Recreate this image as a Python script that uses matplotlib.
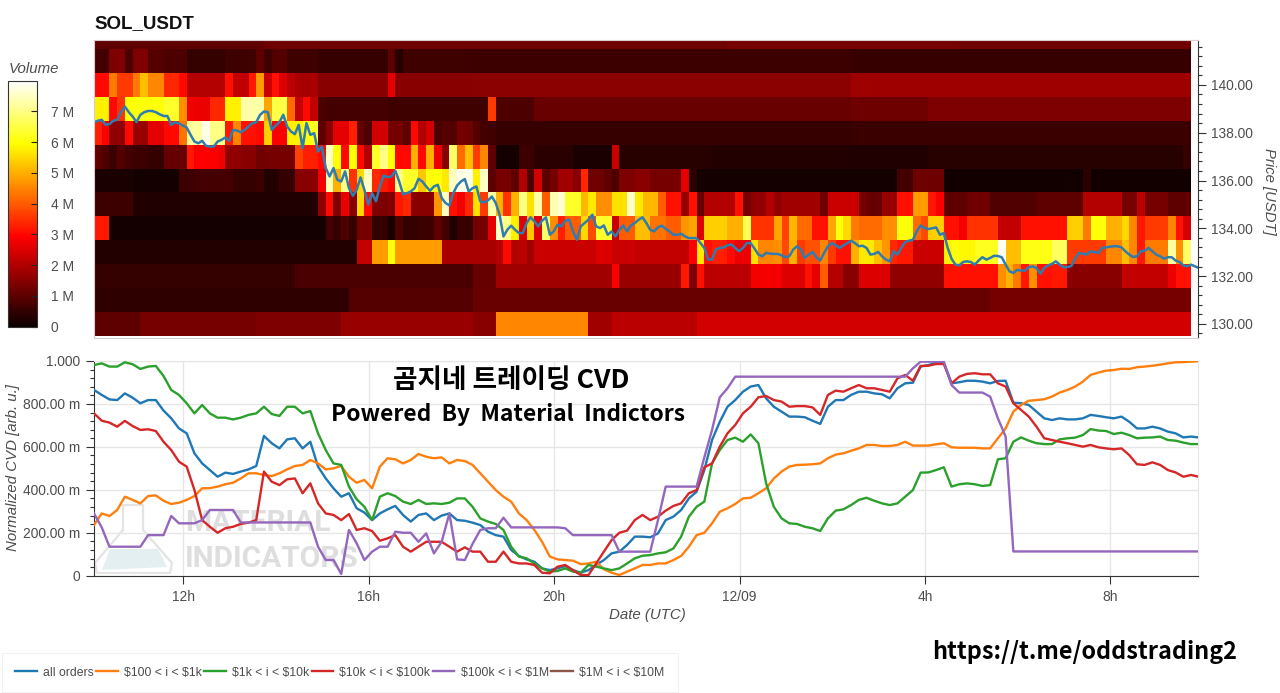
import matplotlib
matplotlib.use("Agg")
import matplotlib.pyplot as plt
import numpy as np

from matplotlib.patches import Polygon
from matplotlib.ticker import MultipleLocator

# heatmap rows, million units, one value per 10 minute bin
vol_142 = [1.0]*22 + [1.2]*60 + [1.3]*30 + [1.2]*30
vol_141 = [0.7]*2 + [1.4]*2 + [0.8] + [1.4]*2 + [0.9]*2 + [0.8]*3 + [0.5]*5 + [0.65]*4 + [1.0] + [0.65] + [0.9]*2 + [0.65]*4 + [0.55]*9 + [1.0] + [0.35] + [0.65]*9 + [0.6]*49 + [0.55]*44
vol_140 = [3.0]*2 + [4.4] + [3.6]*2 + [4.4] + [5.2] + [4.5]*2 + [3.4]*2 + [3.0] + [2.0]*5 + [3.1] + [2.2]*2 + [3.2] + [4.8] + [2.3] + [3.1] + [2.5] + [2.1] + [1.9]*3 + [1.5]*9 + [2.6] + [1.5]*10 + [1.55]*49 + [1.75]*44
vol_139 = [5.8]*2 + [3.0] + [3.5] + [6.0]*5 + [6.3]*2 + [4.6] + [2.8] + [2.7]*2 + [3.4]*2 + [5.8]*2 + [7.3]*3 + [4.9] + [6.5]*2 + [4.2] + [2.2] + [3.0] + [2.2] + [0.8] + [0.7]*8 + [0.65]*13 + [3.6] + [0.8]*5 + [1.15]*41 + [1.2]*10 + [1.4]*34
vol_138 = [3.3, 2.9, 1.6, 1.6, 3.0, 1.7, 1.7, 2.6, 2.6, 3.0, 3.0, 4.3, 7.2, 7.2, 7.8, 7.0, 7.0, 3.2, 4.5, 3.1, 3.1, 3.0, 5.4, 2.9, 2.9, 5.8, 5.8, 6.0, 6.2, 1.0, 1.5, 2.6, 2.6, 3.3, 1.1, 0.8, 2.4, 2.4, 1.3, 1.3, 1.0, 3.0, 2.0, 2.4, 0.8, 0.9, 0.9, 1.3, 1.2, 0.9, 0.7, 0.65] + [0.55]*46 + [0.58]*44
vol_137 = [1.0, 0.8, 0.6, 0.9, 0.7, 0.6, 0.6, 0.5, 0.5, 1.1, 1.1, 1.1, 3.2, 2.9, 2.9, 2.9, 2.7, 1.6, 1.6, 1.5, 1.5, 1.2, 1.3, 1.3, 1.3, 1.3, 3.7, 3.3, 3.3, 3.0, 7.5, 6.0, 3.0, 6.0, 3.0, 2.0, 6.3, 7.0, 6.0, 3.0, 3.0, 5.0, 3.0, 5.0, 2.7, 1.5, 6.8, 4.2, 5.2, 3.6, 4.5, 1.0] + [0.15]*3 + [0.6]*2 + [0.4]*5 + [0.2]*5 + [2.3] + [0.35]*12 + [0.3]*17 + [0.25]*11 + [0.35]*33 + [0.5]
vol_136 = [0.2]*5 + [0.15]*6 + [0.6]*2 + [0.7]*5 + [0.5]*3 + [0.6] + [0.3]*2 + [0.5]*2 + [1.5]*3 + [2.8, 7.4, 5.0, 7.0, 3.5, 5.5, 7.5, 3.4, 3.2, 3.0, 7.0, 6.3, 6.3, 5.3, 6.0, 6.0, 5.7, 7.5, 7.8, 7.8, 5.8, 7.5, 1.0, 1.3, 1.3, 1.0, 2.0, 0.8, 2.4, 1.0, 1.3, 1.8, 1.8, 1.5, 3.4, 1.2, 1.2, 1.0, 0.8, 1.4, 1.4, 1.5, 1.5] + [1.3]*4 + [2.6, 0.4] + [0.15]*26 + [0.7]*2 + [1.2]*4 + [0.1]*18 + [0.4] + [0.12]*13
vol_135 = [0.6]*5 + [0.25]*24 + [1.6, 3.0, 1.4, 2.7, 1.5, 5.5, 3.0, 1.4, 1.4, 1.4, 3.2, 3.4, 1.5, 1.5, 1.5, 4.7, 7.5, 3.1, 2.8, 3.4, 5.6, 3.6, 7.3, 5.0, 3.5, 5.0, 7.0, 5.6, 7.3, 4.0, 7.4, 7.6, 6.3, 6.3, 5.1, 5.7, 4.6, 4.6, 5.6, 5.6, 7.5, 5.7, 5.1, 5.1, 4.0, 3.1, 3.1, 1.7, 3.1, 1.1, 2.0, 2.0, 2.0, 2.0, 3.1, 1.3, 1.6, 1.6, 2.0, 1.6, 1.8, 1.8, 1.8, 1.8, 1.8, 1.2, 2.3, 2.3, 2.3, 2.3, 1.3, 1.1, 1.1, 1.7, 1.7, 3.1, 3.1, 4.8, 4.8, 3.2, 2.9, 1.0, 1.0, 1.0, 1.2, 1.2, 1.2] + [0.85]*6 + [1.0]*6 + [2.0]*5 + [1.3]*2 + [2.1] + [1.3]*3 + [1.0]*3
vol_134 = [3.2]*2 + [0.15]*28 + [0.7, 0.5, 0.8, 0.5, 1.3, 1.3, 0.5, 0.5, 0.2, 0.8, 0.5, 0.5, 0.6, 0.6, 1.0, 0.7, 0.3, 0.5, 0.5, 1.3, 1.3, 2.6, 7.5, 7.0, 5.8, 2.5, 5.3, 2.5, 6.8, 4.6, 3.3, 4.0, 4.0, 5.5, 3.8, 6.3, 6.3, 2.3, 4.0, 4.0, 5.2, 5.2, 4.3, 4.3, 4.0, 4.0, 4.7, 4.9, 2.5, 5.4, 5.4, 5.4, 5.0, 5.0, 6.6, 3.5, 3.5, 3.5, 4.9, 3.7, 5.1, 4.2, 4.2, 3.1, 3.1, 4.9, 6.0, 5.5, 4.4, 4.2, 4.2, 4.2, 4.6, 4.6, 6.0, 6.0, 4.2, 3.8, 5.4, 5.4, 3.1, 3.1, 2.8, 3.5, 3.5, 3.5, 3.5, 2.2, 2.2, 2.2] + [3.1]*6 + [5.4, 5.4, 4.4, 6.0, 6.0, 5.0, 5.0, 5.5, 4.5, 3.2, 3.6, 3.6, 3.6, 4.5, 3.1, 2.4]
vol_133 = [0.3]*34 + [2.2]*2 + [4.8]*2 + [6.0] + [4.8]*6 + [1.9]*7 + [2.0, 3.0, 2.0, 2.1, 1.8] + [2.3]*8 + [2.5]*2 + [2.3]*3 + [2.2]*7 + [2.9, 5.7, 3.1, 3.3, 3.3, 3.0, 2.7, 2.7, 5.6, 4.5, 4.5, 4.6, 3.8, 5.0, 3.6, 3.9, 3.9, 4.5, 3.6, 3.1, 3.1, 5.0, 5.7, 5.7, 5.2, 4.7, 3.4, 3.2, 3.2] + [2.3]*4 + [5.8, 6.0, 5.9, 5.9, 6.2, 6.2, 6.2, 7.9, 5.2, 5.2] + [6.1]*4 + [6.7]*2 + [3.6]*5 + [4.5, 4.5, 5.2, 4.5, 3.2, 4.4, 4.4, 4.4, 7.2, 4.6, 6.8]
vol_132 = [0.5]*26 + [0.75]*23 + [1.1]*3 + [1.8]*15 + [2.9] + [1.7]*8 + [3.2, 1.4, 3.1] + [2.1]*6 + [2.8]*4 + [2.5]*3 + [3.1, 2.6, 4.0, 2.0, 2.0, 1.5, 1.5] + [2.5]*4 + [1.6]*7 + [3.1]*7 + [4.6, 5.0, 4.4, 3.2, 4.6, 3.1, 3.1, 3.2, 3.2] + [1.5]*7 + [2.2]*6 + [2.7, 3.1, 3.1]
vol_131 = [0.45]*33 + [0.9]*16 + [1.15]*67 + [1.3]*26
vol_130 = [1.0]*6 + [1.3]*15 + [1.4]*11 + [1.7]*17 + [1.5]*3 + [4.5]*12 + [1.8]*3 + [2.1]*11 + [2.4]*64

# bottom to top, one price level per row
price_levels = [130, 131, 132, 133, 134, 135, 136, 137, 138, 139, 140, 141, 142]

# price, one value per 5 minutes
price = [
    138.44, 138.50, 138.54, 138.33, 138.36, 138.50, 138.54, 138.86, 139.09, 138.86, 138.68, 138.44,
    138.75, 138.86, 138.91, 138.91, 138.86, 138.77, 138.70, 138.70, 138.33, 138.44, 138.39, 138.30,
    138.22, 137.91, 137.63, 137.56, 137.66, 137.45, 137.42, 137.42, 137.63, 137.70, 137.80, 137.66,
    138.12, 138.09, 138.02, 138.12, 138.26, 138.40, 138.44, 138.75, 138.89, 138.86, 138.12, 138.30,
    138.44, 138.75, 138.26, 138.05, 137.94, 138.33, 137.35, 138.40, 137.91, 137.98, 137.21, 137.42,
    136.52, 136.17, 136.52, 136.03, 135.96, 136.38, 135.68, 135.36, 135.61, 136.13, 135.61, 134.99,
    135.47, 135.13, 135.75, 136.21, 136.14, 136.17, 136.41, 135.96, 135.43, 135.47, 135.54, 135.68,
    136.07, 135.96, 135.75, 135.57, 135.75, 135.82, 135.27, 135.06, 134.96, 135.47, 135.79, 135.96,
    136.06, 135.54, 135.68, 135.75, 135.13, 135.08, 135.17, 135.33, 135.06, 134.57, 133.66, 133.94,
    134.11, 133.94, 133.80, 133.80, 134.22, 134.46, 134.29, 134.08, 134.32, 134.46, 133.73, 133.87,
    134.15, 134.08, 134.32, 134.36, 133.87, 133.52, 134.08, 134.22, 134.36, 134.57, 134.08, 134.01,
    134.12, 133.73, 133.87, 133.66, 133.94, 134.12, 133.87, 134.12, 134.22, 134.36, 134.46, 134.22,
    133.94, 133.87, 134.04, 134.11, 133.98, 133.87, 133.73, 133.73, 133.77, 133.66, 133.59, 133.59,
    133.59, 133.38, 133.18, 132.69, 132.69, 133.11, 133.18, 133.20, 133.29, 133.32, 133.18, 133.04,
    133.18, 133.38, 133.38, 133.15, 132.90, 132.83, 132.97, 132.94, 132.93, 132.93, 132.87, 132.79,
    132.83, 133.11, 133.25, 133.11, 132.76, 132.90, 133.01, 132.79, 132.65, 132.97, 133.25, 133.38,
    133.29, 133.18, 133.29, 133.38, 133.48, 133.38, 133.25, 133.27, 133.18, 132.90, 132.93, 133.01,
    132.83, 132.69, 132.62, 133.04, 132.90, 133.18, 133.43, 133.48, 133.52, 133.87, 134.12, 134.01,
    133.97, 134.00, 134.04, 133.73, 133.80, 133.18, 132.73, 132.48, 132.45, 132.59, 132.62, 132.59,
    132.48, 132.65, 132.79, 132.69, 132.76, 132.85, 132.84, 132.79, 132.48, 132.20, 132.13, 132.26,
    132.23, 132.23, 132.37, 132.41, 132.34, 132.10, 132.34, 132.45, 132.51, 132.62, 132.48, 132.37,
    132.38, 132.42, 132.73, 132.97, 132.94, 132.90, 133.04, 133.01, 132.97, 133.18, 133.20, 133.23,
    133.25, 133.25, 133.20, 133.04, 132.90, 132.80, 132.83, 133.04, 133.06, 133.18, 133.04, 132.90,
    132.83, 132.73, 132.79, 132.79, 132.65, 132.59, 132.45, 132.41, 132.48, 132.41, 132.34,
]

# normalized cvd in milli units, one value per 10 minutes
cvd_all = [
    865, 842, 821, 818, 849, 829, 803, 818, 818, 769, 733, 686, 663, 570, 523, 492, 461, 480, 474, 485,
    495, 511, 651, 617, 593, 635, 640, 593, 624, 508, 453, 407, 368, 384, 314, 294, 259, 290, 309, 325,
    283, 252, 283, 290, 259, 280, 290, 259, 256, 247, 236, 205, 189, 182, 120, 92, 76, 65, 34, 26,
    34, 45, 26, 14, 26, 50, 73, 104, 112, 143, 182, 182, 179, 197, 259, 275, 306, 360, 391, 492,
    632, 717, 787, 818, 857, 881, 888, 826, 787, 764, 741, 741, 738, 722, 707, 787, 818, 818, 842, 857,
    857, 849, 845, 826, 873, 896, 899, 974, 981, 992, 992, 896, 901, 908, 908, 904, 896, 907, 908, 806,
    803, 795, 764, 733, 725, 733, 728, 728, 733, 749, 744, 738, 733, 741, 717, 686, 686, 694, 686, 671,
    663, 644, 648, 644,
]
cvd_100_1k = [
    236, 290, 278, 306, 368, 353, 337, 371, 374, 349, 334, 340, 353, 371, 407, 408, 415, 426, 433, 453,
    477, 477, 469, 464, 477, 495, 511, 516, 539, 523, 495, 500, 511, 461, 433, 446, 407, 508, 547, 542,
    523, 539, 567, 554, 547, 551, 523, 539, 534, 516, 477, 438, 399, 368, 345, 290, 259, 213, 158, 89,
    76, 73, 70, 54, 57, 65, 30, 14, 3, 19, 34, 50, 50, 57, 57, 73, 92, 135, 189, 200,
    244, 298, 314, 334, 360, 363, 384, 407, 453, 485, 508, 516, 517, 519, 523, 547, 564, 570, 582, 593,
    609, 609, 604, 604, 609, 624, 606, 606, 606, 612, 617, 598, 596, 596, 596, 593, 593, 640, 686, 764,
    795, 815, 818, 822, 834, 853, 865, 881, 904, 935, 946, 955, 958, 964, 963, 971, 974, 978, 983, 989,
    994, 995, 997, 999,
]
cvd_1k_10k = [
    981, 989, 974, 974, 994, 985, 963, 974, 977, 930, 865, 842, 803, 756, 795, 756, 736, 736, 728, 736,
    749, 756, 787, 753, 744, 787, 787, 756, 767, 663, 585, 523, 516, 415, 356, 321, 259, 368, 384, 371,
    345, 334, 353, 334, 337, 334, 340, 360, 360, 321, 267, 252, 241, 213, 135, 89, 81, 57, 34, 19,
    22, 34, 19, 14, 50, 42, 34, 26, 34, 57, 81, 93, 96, 104, 109, 127, 182, 275, 321, 345,
    523, 585, 632, 643, 624, 658, 617, 430, 321, 267, 244, 241, 228, 221, 208, 267, 303, 309, 329, 353,
    363, 349, 337, 329, 337, 368, 399, 480, 481, 492, 505, 415, 426, 430, 426, 418, 422, 542, 547, 624,
    644, 629, 617, 613, 613, 635, 640, 643, 655, 683, 676, 674, 660, 666, 655, 640, 643, 644, 648, 632,
    629, 620, 613, 613,
]
cvd_10k_100k = [
    756, 722, 713, 694, 721, 697, 679, 682, 674, 624, 585, 531, 508, 399, 259, 228, 200, 221, 228, 241,
    247, 259, 485, 438, 422, 449, 453, 384, 430, 337, 290, 283, 259, 287, 213, 221, 208, 163, 174, 189,
    135, 112, 135, 158, 158, 158, 135, 112, 132, 112, 112, 65, 65, 112, 65, 57, 57, 50, 14, 11,
    42, 50, 26, 3, 3, 57, 112, 166, 200, 210, 259, 283, 259, 275, 303, 325, 337, 384, 399, 505,
    523, 601, 663, 702, 756, 787, 831, 837, 818, 811, 787, 790, 790, 784, 749, 842, 862, 857, 873, 888,
    873, 873, 865, 857, 919, 935, 908, 977, 978, 986, 986, 896, 927, 940, 943, 938, 938, 896, 881, 803,
    772, 741, 694, 640, 632, 624, 617, 609, 601, 609, 598, 593, 589, 593, 562, 519, 516, 528, 516, 492,
    481, 461, 469, 461,
]
cvd_100k_1m = [
    290, 225, 135, 135, 135, 135, 135, 189, 189, 189, 278, 244, 244, 244, 259, 306, 306, 306, 306, 248,
    248, 248, 248, 248, 248, 248, 248, 248, 248, 135, 73, 73, 8, 213, 151, 73, 112, 135, 135, 205,
    200, 200, 158, 197, 104, 158, 290, 76, 73, 148, 213, 221, 221, 270, 225, 225, 225, 225, 225, 225,
    225, 221, 189, 189, 189, 189, 189, 189, 112, 112, 112, 112, 112, 259, 415, 415, 415, 415, 415, 551,
    679, 831, 873, 927, 927, 927, 927, 927, 927, 927, 927, 927, 927, 927, 927, 927, 927, 927, 927, 927,
    927, 927, 927, 927, 927, 927, 966, 997, 997, 997, 997, 888, 853, 853, 853, 853, 834, 733, 648, 113,
    113, 113, 113, 113, 113, 113, 113, 113, 113, 113, 113, 113, 113, 113, 113, 113, 113, 113, 113, 113,
    113, 113, 113, 113,
]
# the biggest bucket only shows up in the legend
cvd_1m_10m = []

series_labels = [
    "all orders", r"\$100 < i < \$1k", r"\$1k < i < \$10k",
    r"\$10k < i < \$100k", r"\$100k < i < \$1M", r"\$1M < i < \$10M",
]
series_colors = ["#1f77b4", "#ff7f0e", "#2ca02c", "#d62728", "#9467bd", "#8c564b"]

# hours since 12/08 00:00
date_ticks = [12, 16, 20, 24, 28, 32]
date_labels = ["12h", "16h", "20h", "12/09", "4h", "8h"]
cvd_ticks = [0, 200, 400, 600, 800, 1000]
cvd_labels = ["0", "200.00 m", "400.00 m", "600.00 m", "800.00 m", "1.000"]
price_ticks = [130, 132, 134, 136, 138, 140]
volume_ticks = [0, 1, 2, 3, 4, 5, 6, 7]
volume_labels = ["0", "1 M", "2 M", "3 M", "4 M", "5 M", "6 M", "7 M"]

WIDTH = 1280
HEIGHT = 693
T_START = 10.073
T_END = 33.89
TEXT_GREY = "#4d4d4d"
GRID_GREY = "#e6e6e6"


def fx(px: float) -> float:
    return px / WIDTH


def fy(py: float) -> float:
    return 1 - py / HEIGHT


def box(left: float, top: float, right: float, bottom: float) -> list[float]:
    return [fx(left), fy(bottom), fx(right) - fx(left), fy(top) - fy(bottom)]


def main() -> None:
    plt.rcParams["font.family"] = ["Liberation Sans", "DejaVu Sans"]
    fig = plt.figure(figsize=(WIDTH / 100, HEIGHT / 100), dpi=100, facecolor="white")

    ax_heat = fig.add_axes(box(94, 40, 1198, 338))
    ax_cvd = fig.add_axes(box(94, 361, 1198, 575.7))
    ax_bar = fig.add_axes(box(8, 80.7, 37, 326.7))

    # --- heatmap
    rows = [vol_130, vol_131, vol_132, vol_133, vol_134, vol_135, vol_136,
            vol_137, vol_138, vol_139, vol_140, vol_141, vol_142]
    heat = np.array([(row + [row[-1]] * 142)[:142] for row in rows])
    x_edges = T_START + np.arange(143) / 6
    y_edges = np.append(np.array(price_levels) - 0.5, price_levels[-1] + 0.5)
    mesh = ax_heat.pcolormesh(x_edges, y_edges, heat, cmap="hot", vmin=0, vmax=8)

    price_t = T_START + np.arange(len(price)) / 12
    ax_heat.plot(price_t, price, color="#2f7cb0", lw=1.8)

    ax_heat.set_xlim(T_START, T_END)
    ax_heat.set_ylim(129.41, 141.88)
    ax_heat.set_xticks([])
    ax_heat.yaxis.tick_right()
    ax_heat.yaxis.set_label_position("right")
    ax_heat.set_yticks(price_ticks)
    ax_heat.set_yticklabels([f"{p:.2f}" for p in price_ticks])
    ax_heat.yaxis.set_minor_locator(MultipleLocator(0.4))
    ax_heat.tick_params(axis="y", which="major", length=6, width=0.8, color="#333333",
                        labelsize=9.9, labelcolor=TEXT_GREY, pad=3)
    ax_heat.tick_params(axis="y", which="minor", length=3, width=0.8, color="#333333")
    for name in ["top", "bottom", "left"]:
        ax_heat.spines[name].set_color("#d8cccc")
        ax_heat.spines[name].set_linewidth(0.8)
    ax_heat.spines["right"].set_color("#333333")
    fig.text(fx(1269), fy(191), "Price [USDT]", rotation=-90, style="italic", fontsize=10.7,
             color=TEXT_GREY, ha="center", va="center")
    fig.text(fx(94), fy(24), "SOL_USDT", fontweight="bold", fontsize=13.5, color="#111111",
             ha="left", va="center")

    # --- colorbar
    cbar = fig.colorbar(mesh, cax=ax_bar)
    cbar.set_ticks(volume_ticks)
    cbar.set_ticklabels(volume_labels)
    ax_bar.tick_params(axis="y", direction="in", length=4.5, width=0.8, color="#222222",
                       labelsize=9.9, labelcolor=TEXT_GREY, pad=10)
    ax_bar.minorticks_off()
    cbar.outline.set_edgecolor("#333333")
    cbar.outline.set_linewidth(0.8)
    fig.text(fx(9), fy(69), "Volume", style="italic", fontsize=10.8, color=TEXT_GREY,
             ha="left", va="center")

    # --- cvd watermark, drawn under the lines
    flask_outline = [(123, 505), (143, 505), (143, 530), (172, 563), (170, 573), (97, 573), (95, 563), (123, 530)]
    flask_liquid = [(110, 549), (158, 549), (167, 567), (102, 570)]
    ax_cvd.add_patch(Polygon([(fx(x), fy(y)) for x, y in flask_outline], closed=True, transform=fig.transFigure,
                             facecolor="white", edgecolor="#e4e4e4", lw=1.6, zorder=0.5))
    ax_cvd.add_patch(Polygon([(fx(x), fy(y)) for x, y in flask_liquid], closed=True, transform=fig.transFigure,
                             facecolor="#e4eff2", edgecolor="none", zorder=0.6))
    for label, py in [("MATERIAL", 523), ("INDICATORS", 559)]:
        ax_cvd.text(fx(185), fy(py), label, transform=fig.transFigure, family="Roboto",
                    fontweight="bold", fontsize=21.5, color="#dedede", ha="left", va="center", zorder=0.7)

    # --- cvd lines
    all_series = [cvd_all, cvd_100_1k, cvd_1k_10k, cvd_10k_100k, cvd_100k_1m, cvd_1m_10m]
    handles = []
    for values, label, color in zip(all_series, series_labels, series_colors):
        t = T_START + np.arange(len(values)) / 6
        line, = ax_cvd.plot(t, values, color=color, lw=1.7, label=label, zorder=3)
        handles.append(line)

    ax_cvd.set_xlim(T_START, T_END)
    ax_cvd.set_ylim(0, 1000)
    ax_cvd.set_xticks(date_ticks)
    ax_cvd.set_xticklabels(date_labels)
    ax_cvd.set_yticks(cvd_ticks)
    ax_cvd.set_yticklabels(cvd_labels)
    ax_cvd.yaxis.set_minor_locator(MultipleLocator(40))
    ax_cvd.grid(True, color=GRID_GREY, lw=1, zorder=0)
    ax_cvd.set_axisbelow(True)
    ax_cvd.tick_params(axis="both", which="major", length=6, width=0.8, color="#333333",
                       labelsize=9.9, labelcolor=TEXT_GREY, pad=4)
    ax_cvd.tick_params(axis="y", which="minor", length=3, width=0.8, color="#333333")
    for name in ["top", "right"]:
        ax_cvd.spines[name].set_color(GRID_GREY)
    for name in ["left", "bottom"]:
        ax_cvd.spines[name].set_color("#333333")
    fig.text(fx(13), fy(468), "Normalized CVD [arb. u.]", rotation=90, style="italic", fontsize=10.8,
             color=TEXT_GREY, ha="center", va="center")
    fig.text(fx(647), fy(615), "Date (UTC)", style="italic", fontsize=10.8, color=TEXT_GREY,
             ha="center", va="center")

    # --- overlays
    kr_font = ["Noto Sans CJK KR", "DejaVu Sans"]
    fig.text(fx(511), fy(380), "곰지네 트레이딩 CVD", family=kr_font, fontweight="bold", fontsize=19.2,
             color="black", ha="center", va="center", zorder=5)
    fig.text(fx(508), fy(415), "Powered  By  Material  Indictors", family=kr_font, fontweight="bold",
             fontsize=16.4, color="black", ha="center", va="center", zorder=5)
    fig.text(fx(1085), fy(652), "https://t.me/oddstrading2", family=kr_font, fontweight="bold", fontsize=16.8,
             color="black", ha="center", va="center", zorder=5)

    # --- legend
    legend = fig.legend(handles=handles, loc="lower left", bbox_to_anchor=(fx(2), fy(692)), ncol=6,
                        fontsize=8.8, frameon=True, fancybox=False, edgecolor="#eeeeee",
                        handlelength=1.75, handletextpad=0.5, columnspacing=0.22,
                        borderpad=1.1, borderaxespad=0)
    legend.get_frame().set_linewidth(0.8)
    for text in legend.get_texts():
        text.set_color(TEXT_GREY)

    fig.savefig("out.png", dpi=100)


main()
